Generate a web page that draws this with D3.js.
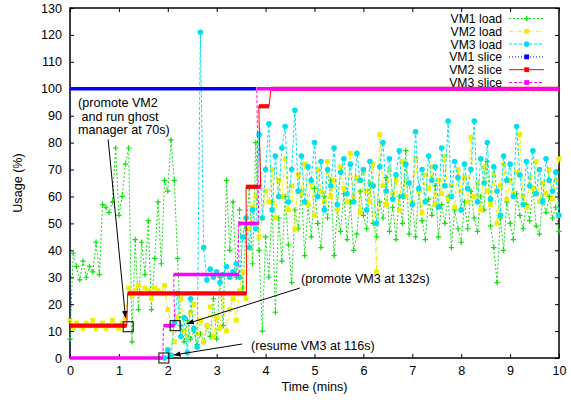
<!DOCTYPE html>
<html>
<head>
<meta charset="utf-8">
<script src="https://cdn.jsdelivr.net/npm/d3@7"></script>
<style>
  body { margin: 0; background: #fff; }
  svg text { font-family: "Liberation Sans", Arial, sans-serif; font-size: 12.6px; fill: #000; }
</style>
</head>
<body>
<svg id="chart" width="571" height="400"></svg>
<script>
'use strict';

// Load traces are sampled every 4 seconds; VM3 only reports after it resumes.
var loadStep = 4;
var vm3Start = 116;

var vm1Load = [
  7, 39, 34, 29, 36, 30, 34, 32, 43, 31,
  57, 56, 54, 58, 78, 53, 60, 72, 78, 6,
  44, 18, 43, 31, 51, 18, 37, 58, 35, 66,
  62, 81, 66, 37, 12, 6, 14, 7, 10, 5,
  9, 6, 12, 8, 22, 7, 30, 12, 66, 40,
  58, 30, 55, 26, 48, 63, 35, 80, 40, 10,
  45, 30, 58, 17, 52, 36, 60, 42, 28, 55,
  48, 62, 38, 57, 45, 63, 50, 41, 60, 52,
  66, 38, 55, 47, 61, 44, 58, 40, 46, 62,
  53, 48, 65, 50, 45, 58, 52, 67, 47, 56,
  44, 60, 50, 77, 46, 58, 45, 62, 51, 44,
  59, 53, 64, 45, 57, 50, 60, 41, 55, 48,
  43, 58, 48, 62, 52, 47, 60, 55, 73, 49,
  41, 28, 52, 40, 58, 50, 44, 61, 53, 48,
  57, 51, 63, 49, 46, 59, 54, 60, 52, 56,
  47
];

var vm2Load = [
  14, 11, 13, 12, 11, 13, 12, 14, 11, 12,
  13, 11, 12, 14, 12, 11, 13, 15, 26, 23,
  25, 27, 24, 26, 25, 22, 26, 25, 24, 27,
  18, 12, 6, 15, 22, 10, 8, 17, 20, 9,
  14, 6, 12, 19, 8, 15, 11, 24, 10, 18,
  22, 14, 25, 32, 22, 48, 56, 60, 45, 52,
  62, 58, 70, 52, 66, 60, 74, 55, 64, 48,
  68, 61, 72, 57, 65, 53, 70, 62, 58, 73,
  60, 66, 55, 71, 63, 58, 76, 60, 67, 54,
  69, 62, 58, 72, 32, 83, 64, 57, 70, 61,
  66, 55, 73, 60, 65, 58, 74, 62, 54, 68,
  63, 71, 57, 66, 61, 75, 59, 64, 56, 70,
  62, 67, 58, 82, 60, 65, 55, 71, 62, 57,
  68, 50, 64, 72, 59, 66, 61, 69, 83, 60,
  56, 67, 63, 73, 58, 65, 61, 70, 59, 66,
  74
];

var vm3Load = [
  0, 3, 1, 13, 24, 8, 15, 2, 22, 11,
  4, 121, 41, 29, 33, 30, 32, 28, 31, 34,
  30, 32, 35, 30, 45, 52, 41, 55, 48, 83,
  52, 70, 87, 55, 75, 60, 78, 86, 58, 70,
  92, 62, 75, 58, 71, 66, 80, 60, 73, 55,
  70, 64, 78, 57, 69, 74, 61, 72, 58, 76,
  66, 70, 55, 73, 64, 50, 71, 80, 62, 74,
  59, 68, 77, 60, 72, 65, 57, 84, 63, 70,
  58, 75, 66, 71, 56, 78, 64, 88, 60, 73,
  67, 55, 72, 63, 70, 88, 58, 74, 65, 80,
  59, 71, 62, 53, 75, 66, 72, 60, 86, 68,
  57, 73, 64, 77, 61, 70, 58, 74, 66, 62,
  69, 53
];

// CPU slice steps: [start (mins), end (mins), share (%)]
var vm1Slice = [[0, 0, 0], [0, 3.81, 100]];
var vm2Slice = [[0, 1.16, 12], [1.18, 3.61, 24], [3.6, 3.9, 63.6],
  [3.86, 4.07, 93.5], [4.11, 10, 100]];
var vm3Slice = [[0, 1.9, 0], [1.91, 2.14, 12], [2.12, 3.46, 31],
  [3.44, 3.86, 50], [3.82, 10, 100]];

var xTickValues = [0, 1, 2, 3, 4, 5, 6, 7, 8, 9, 10];
var yTickValues = [0, 10, 20, 30, 40, 50, 60, 70, 80, 90, 100, 110, 120, 130];

var legendLabels = ['VM1 load', 'VM2 load', 'VM3 load',
  'VM1 slice', 'VM2 slice', 'VM3 slice'];

// Event markers: [time (mins), usage (%)]
var eventPoints = [[1.19, 11.6], [2.15, 12], [1.92, 0]];

var svg = d3.select('#chart');
var plotLeft = 70, plotRight = 559, plotTop = 8, plotBottom = 358;

var x = d3.scaleLinear().domain([0, 10]).range([plotLeft, plotRight]);
var y = d3.scaleLinear().domain([0, 130]).range([plotBottom, plotTop]);

// Styles per series, in gnuplot draw order.
var styles = [
  {color: '#11dd11', dash: '2,2', marker: 'plus'},
  {color: '#eeee00', dash: '4,2,1,2', marker: 'square'},
  {color: '#00e0f0', dash: '3,2', marker: 'circle'},
  {color: '#0000ff', dash: '1,2', marker: 'square', width: 3.6},
  {color: '#ff0000', dash: null, marker: 'square', width: 4.2},
  {color: '#ff00ff', dash: '3,2', marker: 'square', width: 3.6}
];

function drawMarker(g, kind, color, cx, cy) {
  if (kind === 'plus') {
    g.append('path')
      .attr('d', 'M' + (cx - 2.7) + ',' + cy + 'h5.4M' + cx + ',' + (cy - 2.7) + 'v5.4')
      .attr('stroke', color).attr('stroke-width', 1.2).attr('fill', 'none');
  } else if (kind === 'square') {
    g.append('rect')
      .attr('x', cx - 2.4).attr('y', cy - 2.4)
      .attr('width', 4.8).attr('height', 4.8)
      .attr('fill', color);
  } else {
    g.append('circle')
      .attr('cx', cx).attr('cy', cy).attr('r', 2.8)
      .attr('fill', color);
  }
}

// Frame and ticks.
svg.append('rect')
  .attr('x', plotLeft).attr('y', plotTop)
  .attr('width', plotRight - plotLeft).attr('height', plotBottom - plotTop)
  .attr('fill', 'none').attr('stroke', '#000').attr('stroke-width', 1.5);

function styleAxis(g) {
  g.select('.domain').remove();
  g.selectAll('.tick line').attr('stroke', '#000');
  g.selectAll('.tick text')
    .attr('fill', '#000')
    .style('font-family', '"Liberation Sans", Arial, sans-serif')
    .style('font-size', '12.6px');
}

svg.append('g')
  .attr('transform', 'translate(0,' + plotBottom + ')')
  .call(d3.axisBottom(x).tickValues(xTickValues).tickSize(-4).tickPadding(8)
    .tickFormat(d3.format('d')))
  .call(styleAxis);
svg.append('g')
  .attr('transform', 'translate(0,' + plotTop + ')')
  .call(d3.axisTop(x).tickValues(xTickValues).tickSize(-4).tickFormat(''))
  .call(styleAxis);
svg.append('g')
  .attr('transform', 'translate(' + plotLeft + ',0)')
  .call(d3.axisLeft(y).tickValues(yTickValues).tickSize(-4).tickPadding(8))
  .call(styleAxis);
svg.append('g')
  .attr('transform', 'translate(' + plotRight + ',0)')
  .call(d3.axisRight(y).tickValues(yTickValues).tickSize(-4).tickFormat(''))
  .call(styleAxis);

svg.append('text')
  .attr('transform', 'translate(22,' + ((plotTop + plotBottom) / 2) + ') rotate(-90)')
  .attr('text-anchor', 'middle')
  .text('Usage (%)');
svg.append('text')
  .attr('x', (plotLeft + plotRight) / 2).attr('y', 391)
  .attr('text-anchor', 'middle')
  .text('Time (mins)');

// Load traces.
var loads = [
  vm1Load.map(function(v, i) { return [i * loadStep / 60, v]; }),
  vm2Load.map(function(v, i) { return [i * loadStep / 60, v]; }),
  vm3Load.map(function(v, i) { return [(vm3Start + i * loadStep) / 60, v]; })
];

var line = d3.line()
  .x(function(d) { return x(d[0]); })
  .y(function(d) { return y(d[1]); });

var plot = svg.append('g');

loads.forEach(function(series, k) {
  var s = styles[k];
  var g = plot.append('g');
  g.append('path')
    .datum(series)
    .attr('d', line)
    .attr('fill', 'none')
    .attr('stroke', s.color)
    .attr('stroke-width', 1)
    .attr('stroke-dasharray', s.dash);
  series.forEach(function(d) {
    drawMarker(g, s.marker, s.color, x(d[0]), y(d[1]));
  });
});

// Slices: thin connectors through every step, then thick step bars.
[vm1Slice, vm2Slice, vm3Slice].forEach(function(steps, k) {
  var s = styles[k + 3];
  var g = plot.append('g');
  var pts = [];
  steps.forEach(function(st) {
    pts.push([st[0], st[2]], [st[1], st[2]]);
  });
  g.append('path')
    .datum(pts)
    .attr('d', line)
    .attr('fill', 'none')
    .attr('stroke', s.color)
    .attr('stroke-width', 1)
    .attr('stroke-dasharray', s.dash);
  g.selectAll('line.bar')
    .data(steps.filter(function(st) { return st[1] > st[0]; }))
    .enter().append('line')
    .attr('class', 'bar')
    .attr('x1', function(d) { return x(d[0]); })
    .attr('x2', function(d) { return x(d[1]); })
    .attr('y1', function(d) { return y(d[2]); })
    .attr('y2', function(d) { return y(d[2]); })
    .attr('stroke', s.color)
    .attr('stroke-width', s.width);
});

// Legend (rows sit as tightly as in the original).
var legend = svg.append('g');
legendLabels.forEach(function(label, k) {
  var s = styles[k];
  var ry = 18.5 + k * 12.8;
  legend.append('text')
    .attr('x', 502).attr('y', ry + 4.4)
    .attr('text-anchor', 'end')
    .style('font-size', '12.2px')
    .text(label);
  legend.append('line')
    .attr('x1', 509).attr('x2', 544)
    .attr('y1', ry).attr('y2', ry)
    .attr('stroke', s.color)
    .attr('stroke-width', 1)
    .attr('stroke-dasharray', s.dash);
  drawMarker(legend, s.marker, s.color, 526.7, ry);
});

// Annotations.
var defs = svg.append('defs');
defs.append('marker')
  .attr('id', 'head')
  .attr('viewBox', '0 0 10 10')
  .attr('refX', 10).attr('refY', 5)
  .attr('markerWidth', 7).attr('markerHeight', 7)
  .attr('markerUnits', 'userSpaceOnUse')
  .attr('orient', 'auto')
  .append('path')
  .attr('d', 'M0,1L10,5L0,9z')
  .attr('fill', '#000');

var notes = svg.append('g');
eventPoints.forEach(function(p) {
  notes.append('rect')
    .attr('x', x(p[0]) - 5).attr('y', y(p[1]) - 5)
    .attr('width', 10).attr('height', 10)
    .attr('fill', 'none').attr('stroke', '#000').attr('stroke-width', 1);
});

var arrows = [
  [[0.78, 81.2], [1.135, 14.9]],
  [[4.70, 26], [2.39, 12.7]],
  [[3.52, 5.2], [2.12, 1.1]]
];
arrows.forEach(function(a) {
  notes.append('line')
    .attr('x1', x(a[0][0])).attr('y1', y(a[0][1]))
    .attr('x2', x(a[1][0])).attr('y2', y(a[1][1]))
    .attr('stroke', '#000').attr('stroke-width', 1)
    .attr('marker-end', 'url(#head)');
});

var promote2 = notes.append('text').attr('x', 78).attr('y', 107);
['(promote VM2', ' and run ghost', 'manager at 70s)'].forEach(function(s, i) {
  promote2.append('tspan')
    .attr('x', 78).attr('dy', i ? 13.7 : 0)
    .style('white-space', 'pre')
    .text(s);
});
notes.append('text').attr('x', 301).attr('y', 283).text('(promote VM3 at 132s)');
notes.append('text').attr('x', 251).attr('y', 350).text('(resume VM3 at 116s)');
</script>
</body>
</html>
